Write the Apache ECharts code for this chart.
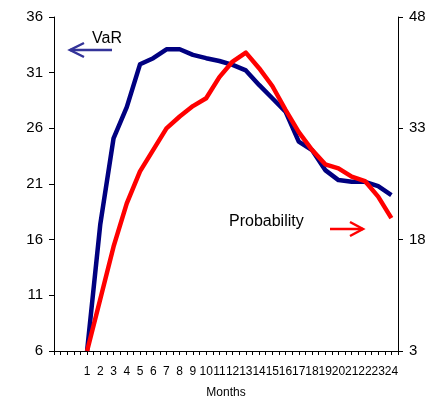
<!DOCTYPE html>
<html>
<head>
<meta charset="utf-8">
<script src="https://cdn.jsdelivr.net/npm/echarts@6/dist/echarts.min.js"></script>
<style>
html,body{margin:0;padding:0;background:#fff;}
#chart{width:442px;height:396px;}
</style>
</head>
<body>
<div id="chart"></div>
<script>
const months = [1,2,3,4,5,6,7,8,9,10,11,12,13,14,15,16,17,18,19,20,21,22,23,24];
const varValues = [6,17.4,25.1,27.9,31.75,32.3,33.1,33.1,32.6,32.3,32.05,31.7,31.2,29.9,28.7,27.5,24.8,24.05,22.25,21.35,21.2,21.2,20.8,20.0];
const probValues = [3,10,17.05,22.9,27.2,30.1,33.0,34.6,36.0,37.05,39.9,42.0,43.2,41.1,38.7,35.5,32.5,30.1,28.15,27.6,26.5,25.9,23.8,20.9];
const leftTicks = [6,11,16,21,26,31,36];
const rightTicks = [3,18,33,48];
const xAxisTitle = 'Months';
const varLabel = 'VaR';
const probLabel = 'Probability';

const chart = echarts.init(document.getElementById('chart'), null, {renderer:'canvas'});
const pair = (xs, ys) => xs.map((x,i)=>[x, ys[i]]);
const labelFont = 'Liberation Sans, Arial, sans-serif';
const narrowFont = '"Liberation Sans Narrow", "Arial Narrow", "Liberation Sans", sans-serif';

chart.setOption({
  animation:false,
  backgroundColor:'#ffffff',
  grid:{left:54, right:44, top:17, bottom:45, containLabel:false, outerBoundsMode:'none'},
  xAxis:{
    type:'value', min:-1.5, max:24.5, interval:0.5,
    name:xAxisTitle, nameLocation:'middle', nameGap:36,
    nameTextStyle:{fontFamily:narrowFont, fontSize:12, color:'#000'},
    axisLine:{show:true, onZero:false, lineStyle:{color:'#000', width:1}},
    axisTick:{show:true, inside:false, length:4, lineStyle:{color:'#000'}},
    splitLine:{show:false},
    axisLabel:{
      margin:15, fontFamily:narrowFont, fontSize:12, color:'#000', hideOverlap:false,
      showMinLabel:true, showMaxLabel:true,
      formatter:(v)=>{ return (Number.isInteger(v) && months.indexOf(v)>=0) ? String(v) : ''; }
    }
  },
  yAxis:[
    {
      type:'value', min:leftTicks[0], max:leftTicks[leftTicks.length-1], interval:leftTicks[1]-leftTicks[0],
      position:'left',
      axisLine:{show:true, onZero:false, lineStyle:{color:'#000', width:1}},
      axisTick:{show:true, inside:false, length:5, lineStyle:{color:'#000'}},
      splitLine:{show:false},
      axisLabel:{margin:11, fontFamily:labelFont, fontSize:15, color:'#000'}
    },
    {
      type:'value', min:rightTicks[0], max:rightTicks[rightTicks.length-1], interval:rightTicks[1]-rightTicks[0],
      position:'right',
      axisLine:{show:true, onZero:false, lineStyle:{color:'#000', width:1}},
      axisTick:{show:true, inside:false, length:5, lineStyle:{color:'#000'}},
      splitLine:{show:false},
      axisLabel:{margin:11, fontFamily:labelFont, fontSize:15, color:'#000'}
    }
  ],
  series:[
    {
      name:varLabel, type:'line', yAxisIndex:0, data:pair(months, varValues),
      showSymbol:false, symbol:'none', lineStyle:{color:'#000080', width:4.5, join:'round'}, z:2
    },
    {
      name:probLabel, type:'line', yAxisIndex:1, data:pair(months, probValues),
      showSymbol:false, symbol:'none', lineStyle:{color:'#ff0000', width:4.5, join:'round'}, z:3
    }
  ],
  graphic:[
    {type:'text', left:92, top:31, style:{text:varLabel, font:'16px Liberation Sans, Arial, sans-serif', fill:'#000'}},
    {type:'polyline', shape:{points:[[70,50],[112,50]]}, style:{stroke:'#333399', lineWidth:2.5, fill:null}},
    {type:'polyline', shape:{points:[[84,43],[70,50],[84,57]]}, style:{stroke:'#333399', lineWidth:2.5, fill:null}},
    {type:'text', left:229, top:214, style:{text:probLabel, font:'16px Liberation Sans, Arial, sans-serif', fill:'#000'}},
    {type:'polyline', shape:{points:[[330,229],[363,229]]}, style:{stroke:'#ff0000', lineWidth:2.5, fill:null}},
    {type:'polyline', shape:{points:[[350,222],[363,229],[350,236]]}, style:{stroke:'#ff0000', lineWidth:2.5, fill:null}}
  ]
});
</script>
</body>
</html>
